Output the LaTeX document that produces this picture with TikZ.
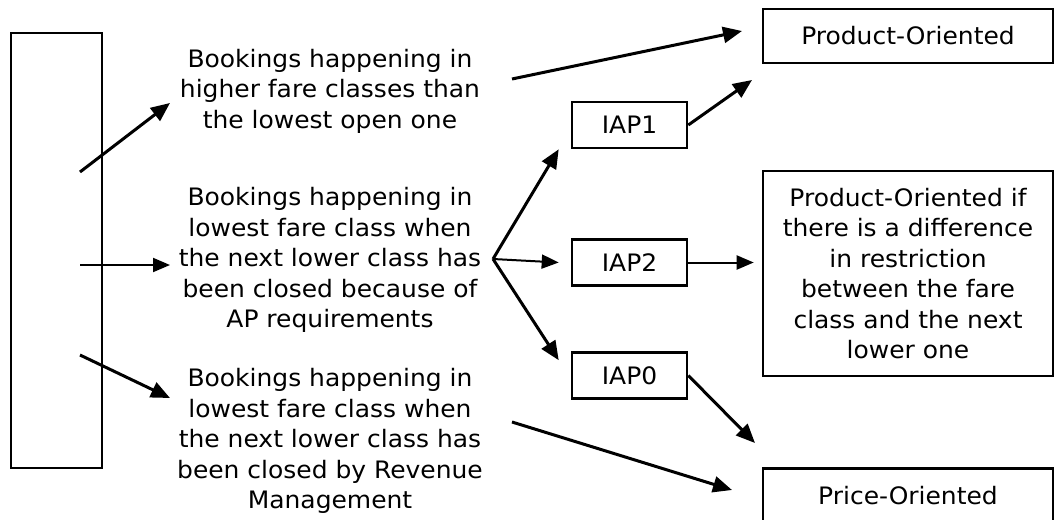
\documentclass[tikz,border=0pt]{standalone}
\usepackage{fontspec}
\setmainfont{DejaVu Sans}[FakeStretch=1.04]
\usetikzlibrary{arrows.meta}

\tikzset{
  box/.style={draw, line width=2.6pt, inner sep=0pt, align=center},
  txt/.style={align=center, inner sep=0pt},
  link/.style={line width=3pt, -{Triangle[length=19pt,width=16pt]}},
  thinlink/.style={line width=2pt, -{Triangle[length=17pt,width=14pt]}},
}

\begin{document}
\begin{tikzpicture}[x=1pt, y=-1pt,
  font=\fontsize{24}{30.5}\selectfont]
\useasboundingbox (0,0) rectangle (1054,519);
\clip (0,0) rectangle (1054,519);

% source column
\node[box, minimum width=91pt, minimum height=435pt] (src) at (56.5,250.5) {};

% booking categories
\node[txt] (t1) at (330,91) {Bookings happening in\\higher fare classes than\\the lowest open one};
\node[txt] (t2) at (330,260) {Bookings happening in\\lowest fare class when\\the next lower class has\\been closed because of\\AP requirements};
\node[txt] (t3) at (330,441) {Bookings happening in\\lowest fare class when\\the next lower class has\\been closed by Revenue\\Management};

% IAP indicators
\node[box, minimum width=115pt, minimum height=46pt] (iap1) at (629.5,125) {IAP1};
\node[box, minimum width=115pt, minimum height=46pt] (iap2) at (629.5,262.5) {IAP2};
\node[box, minimum width=115pt, minimum height=46pt] (iap0) at (629.5,375.5) {IAP0};

% outcomes
\node[box, minimum width=290pt, minimum height=54pt] (prod) at (908,36) {Product-Oriented};
\node[box, minimum width=290pt, minimum height=205pt] (cond) at (908,273.5)
  {Product-Oriented if\\there is a difference\\in restriction\\between the fare\\class and the next\\lower one};
\node[box, minimum width=290pt, minimum height=54pt, anchor=north] (price) at (908,467) {Price-Oriented};

% free ends of the connectors
\coordinate (s1) at (80,172);
\coordinate (s2) at (80,265);
\coordinate (s3) at (80,355);
\coordinate (e1) at (170,103);
\coordinate (e2) at (170,265);
\coordinate (e3) at (170,398);
\coordinate (junc) at (493,259);
\coordinate (t1out) at (512,79);
\coordinate (t3out) at (512,422);
\coordinate (prodin) at (742,31);
\coordinate (prodin2) at (752,80);
\coordinate (pricein) at (755,443);
\coordinate (pricein2) at (732,490);

% source to categories
\draw[link] (s1) -- (e1);
\draw[thinlink] (s2) -- (e2);
\draw[link] (s3) -- (e3);

% category 2 splits into the IAP indicators
\draw[link] (junc) -- ([xshift=-12pt]iap1.south west);
\draw[thinlink] (junc) -- ([xshift=-12pt]iap2.west);
\draw[link] (junc) -- ([xshift=-12pt,yshift=-9pt]iap0.north west);

% to outcomes
\draw[link] (t1out) -- (prodin);
\draw[link] (iap1.east) -- (prodin2);
\draw[thinlink] (iap2.east) -- ([xshift=-8pt]iap2.east -| cond.west);
\draw[link] (iap0.east) -- (pricein);
\draw[link] (t3out) -- (pricein2);
\end{tikzpicture}
\end{document}
